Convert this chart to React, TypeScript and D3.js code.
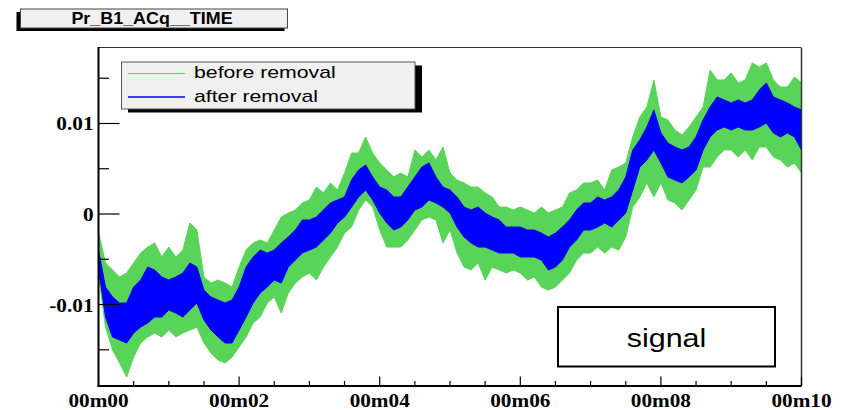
import React from 'react';
import * as d3 from 'd3';

const WIDTH = 846;
const HEIGHT = 410;

const TITLE = 'Pr_B1_ACq__TIME';
const SERIES_NAMES = ['before removal', 'after removal'];
const SERIES_COLORS = ['#58d458', '#0000ff'];
const BOX_LABEL = 'signal';

// Time axis (minutes) and value axis
const X_DOMAIN: [number, number] = [0, 10];
const Y_DOMAIN: [number, number] = [-0.019, 0.01834];
const X_MAJOR_TICKS = [0, 2, 4, 6, 8, 10];
const X_TICK_LABELS = ['00m00', '00m02', '00m04', '00m06', '00m08', '00m10'];
const X_MINOR_TICKS = [0.5, 1, 1.5, 2.5, 3, 3.5, 4.5, 5, 5.5, 6.5, 7, 7.5, 8.5, 9, 9.5];
const Y_MAJOR_TICKS = [-0.01, 0, 0.01];
const Y_TICK_LABELS = ['-0.01', '0', '0.01'];
const Y_MINOR_TICKS = [-0.015, -0.005, 0.005, 0.015];

// Envelope of each trace, one sample every 0.1 min from 00m00 to 00m10
const SAMPLE_STEP_MIN = 0.1;

const beforeHigh = [
  -1.99e-3, -5.41e-3, -6.19e-3, -6.96e-3, -6.52e-3, -5.41e-3, -4.31e-3, -3.65e-3, -3.2e-3, -4.75e-3,
  -3.65e-3, -4.75e-3, -3.98e-3, -0.99e-3, -1.77e-3, -6.96e-3, -7.62e-3, -7.29e-3, -7.62e-3, -8.07e-3,
  -5.86e-3, -3.98e-3, -3.2e-3, -2.87e-3, -3.2e-3, -1.77e-3, -0.33e-3, 0.11e-3, 0.44e-3, 1.22e-3,
  1.55e-3, 2.98e-3, 2.32e-3, 3.43e-3, 2.65e-3, 4.53e-3, 6.74e-3, 6.74e-3, 8.51e-3, 6.74e-3,
  5.64e-3, 4.86e-3, 4.09e-3, 4.53e-3, 4.09e-3, 7.07e-3, 6.3e-3, 7.07e-3, 5.97e-3, 7.4e-3,
  4.53e-3, 3.76e-3, 3.43e-3, 2.98e-3, 2.98e-3, 2.32e-3, 1.88e-3, 0.77e-3, 0.77e-3, 0.44e-3,
  0.77e-3, 0.44e-3, 0.11e-3, 0.77e-3, 0.11e-3, 0.44e-3, 0.77e-3, 2.32e-3, 2.65e-3, 3.43e-3,
  3.43e-3, 3.76e-3, 2.65e-3, 4.86e-3, 5.19e-3, 5.64e-3, 8.51e-3, 10.72e-3, 11.82e-3, 14.81e-3,
  10.72e-3, 10.39e-3, 9.28e-3, 8.73e-3, 9.61e-3, 10.72e-3, 11.82e-3, 15.91e-3, 14.81e-3, 14.81e-3,
  15.58e-3, 14.48e-3, 14.81e-3, 16.69e-3, 16.24e-3, 16.69e-3, 14.81e-3, 14.03e-3, 14.03e-3, 15.14e-3,
  14.48e-3,
];

const beforeLow = [
  -6.74e-3, -12.49e-3, -15.03e-3, -16.46e-3, -18.01e-3, -15.8e-3, -14.25e-3, -13.59e-3, -13.15e-3, -13.59e-3,
  -12.82e-3, -13.59e-3, -13.15e-3, -12.82e-3, -12.49e-3, -14.25e-3, -15.36e-3, -16.13e-3, -16.46e-3, -15.8e-3,
  -14.7e-3, -13.59e-3, -12.04e-3, -11.38e-3, -9.83e-3, -9.17e-3, -10.94e-3, -8.73e-3, -7.62e-3, -6.96e-3,
  -6.52e-3, -7.29e-3, -5.86e-3, -4.75e-3, -3.65e-3, -2.1e-3, -1.44e-3, 0.44e-3, 1.55e-3, 0.77e-3,
  -1.77e-3, -3.65e-3, -3.65e-3, -3.65e-3, -2.87e-3, -1.77e-3, -0.66e-3, -0.33e-3, -0.66e-3, -3.2e-3,
  -1.77e-3, -4.31e-3, -5.86e-3, -6.19e-3, -5.41e-3, -7.29e-3, -5.86e-3, -6.19e-3, -6.52e-3, -6.19e-3,
  -6.52e-3, -7.29e-3, -6.96e-3, -8.07e-3, -8.4e-3, -8.07e-3, -7.29e-3, -6.52e-3, -5.08e-3, -4.31e-3,
  -4.31e-3, -3.65e-3, -4.31e-3, -3.65e-3, -3.98e-3, -2.54e-3, 0.77e-3, 1.88e-3, 3.43e-3, 1.88e-3,
  3.43e-3, 1.55e-3, 1.22e-3, 0.44e-3, 1.55e-3, 2.65e-3, 5.19e-3, 5.19e-3, 6.3e-3, 7.07e-3,
  7.07e-3, 6.3e-3, 7.07e-3, 5.97e-3, 7.4e-3, 7.4e-3, 6.3e-3, 5.97e-3, 5.19e-3, 5.64e-3,
  4.53e-3,
];

const afterHigh = [
  -3.98e-3, -8.07e-3, -9.17e-3, -9.83e-3, -9.83e-3, -8.07e-3, -7.29e-3, -5.86e-3, -6.19e-3, -6.96e-3,
  -7.29e-3, -6.96e-3, -6.52e-3, -5.41e-3, -5.86e-3, -8.4e-3, -9.17e-3, -9.5e-3, -9.83e-3, -9.5e-3,
  -8.07e-3, -5.86e-3, -4.75e-3, -3.98e-3, -4.31e-3, -3.98e-3, -3.2e-3, -2.54e-3, -1.77e-3, -0.66e-3,
  -0.66e-3, -0.33e-3, 0.44e-3, 1.22e-3, 1.55e-3, 1.88e-3, 3.76e-3, 4.86e-3, 5.41e-3, 4.09e-3,
  2.98e-3, 2.65e-3, 1.88e-3, 1.88e-3, 2.98e-3, 4.09e-3, 5.19e-3, 5.64e-3, 4.09e-3, 2.98e-3,
  2.65e-3, 1.88e-3, 0.77e-3, 0.44e-3, 0.77e-3, 0.11e-3, -0.33e-3, -0.66e-3, -1.44e-3, -1.44e-3,
  -1.44e-3, -1.77e-3, -1.77e-3, -2.1e-3, -2.54e-3, -2.1e-3, -1.44e-3, -0.66e-3, 0.44e-3, 1.22e-3,
  1.22e-3, 1.88e-3, 1.55e-3, 1.88e-3, 2.65e-3, 4.09e-3, 7.07e-3, 8.18e-3, 9.61e-3, 11.49e-3,
  8.95e-3, 7.85e-3, 7.4e-3, 7.07e-3, 7.4e-3, 8.51e-3, 10.39e-3, 11.82e-3, 12.93e-3, 12.6e-3,
  12.27e-3, 12.6e-3, 12.27e-3, 12.6e-3, 13.7e-3, 14.48e-3, 12.93e-3, 12.6e-3, 12.27e-3, 11.82e-3,
  11.49e-3,
];

const afterLow = [
  -5.97e-3, -11.38e-3, -13.59e-3, -13.92e-3, -14.25e-3, -13.15e-3, -12.49e-3, -12.04e-3, -11.38e-3, -11.38e-3,
  -10.61e-3, -10.94e-3, -11.38e-3, -10.61e-3, -9.83e-3, -11.71e-3, -12.82e-3, -13.59e-3, -14.25e-3, -14.25e-3,
  -12.82e-3, -11.38e-3, -9.83e-3, -8.73e-3, -8.07e-3, -7.29e-3, -7.62e-3, -5.86e-3, -5.08e-3, -4.31e-3,
  -3.98e-3, -3.65e-3, -2.87e-3, -2.1e-3, -0.99e-3, -0.33e-3, 0.77e-3, 1.88e-3, 2.65e-3, 1.55e-3,
  0.11e-3, -0.99e-3, -1.77e-3, -1.44e-3, -0.66e-3, 0.44e-3, 0.77e-3, 1.55e-3, 1.22e-3, 0.77e-3,
  0.11e-3, -1.44e-3, -2.54e-3, -3.2e-3, -3.65e-3, -3.65e-3, -3.98e-3, -4.31e-3, -4.31e-3, -4.31e-3,
  -4.75e-3, -4.75e-3, -4.75e-3, -5.08e-3, -6.19e-3, -5.86e-3, -5.08e-3, -3.65e-3, -2.87e-3, -1.77e-3,
  -1.77e-3, -1.44e-3, -0.99e-3, -1.44e-3, -0.66e-3, 0.11e-3, 2.65e-3, 5.19e-3, 5.97e-3, 7.07e-3,
  5.64e-3, 4.09e-3, 3.76e-3, 3.43e-3, 4.09e-3, 4.86e-3, 7.07e-3, 8.51e-3, 9.28e-3, 9.61e-3,
  9.28e-3, 9.61e-3, 9.28e-3, 9.28e-3, 9.61e-3, 10.06e-3, 8.95e-3, 8.51e-3, 8.95e-3, 8.51e-3,
  7.07e-3,
];

// Frame geometry
const FRAME = { left: 98.5, right: 801.5, top: 48, bottom: 386 };

// Horizontal text stretch used for every label
const SX = 1.18;

type TProps = {
  x: number;
  y: number;
  size: number;
  anchor?: 'start' | 'middle' | 'end';
  bold?: boolean;
  serif?: boolean;
  sx?: number;
  children: React.ReactNode;
};

function SText({ x, y, size, anchor = 'start', bold = false, serif = false, sx = SX, children }: TProps) {
  return (
    <text
      transform={`translate(${x},${y}) scale(${sx},1)`}
      fontSize={size}
      fontWeight={bold ? 'bold' : 'normal'}
      fontFamily={serif ? '"Liberation Serif", "Times New Roman", serif' : '"Liberation Sans", Arial, sans-serif'}
      textAnchor={anchor}
      fill="#000"
    >
      {children}
    </text>
  );
}

export default function App() {
  const x = d3.scaleLinear().domain(X_DOMAIN).range([FRAME.left, FRAME.right]);
  const y = d3.scaleLinear().domain(Y_DOMAIN).range([FRAME.bottom, FRAME.top]);

  const band = (hi: number[], lo: number[]) =>
    d3
      .area<number>()
      .x((_, i) => x(i * SAMPLE_STEP_MIN))
      .y0((_, i) => y(lo[i]))
      .y1((d) => y(d))(hi) ?? '';

  const beforePath = band(beforeHigh, beforeLow);
  const afterPath = band(afterHigh, afterLow);

  return (
    <svg
      width={WIDTH}
      height={HEIGHT}
      style={{ position: 'absolute', left: 0, top: 0, background: '#fff' }}
    >
      <defs>
        <clipPath id="frame-clip">
          <rect x={FRAME.left} y={FRAME.top} width={FRAME.right - FRAME.left} height={FRAME.bottom - FRAME.top} />
        </clipPath>
      </defs>

      {/* traces */}
      <g clipPath="url(#frame-clip)">
        <path d={beforePath} fill={SERIES_COLORS[0]} stroke={SERIES_COLORS[0]} strokeWidth={1} />
        <path d={afterPath} fill={SERIES_COLORS[1]} stroke={SERIES_COLORS[1]} strokeWidth={1} />
      </g>

      {/* frame */}
      <line x1={FRAME.left} x2={FRAME.right} y1={FRAME.top - 0.5} y2={FRAME.top - 0.5} stroke="#333" strokeWidth={1} />
      <line x1={FRAME.right} x2={FRAME.right} y1={FRAME.top} y2={FRAME.bottom} stroke="#333" strokeWidth={1.5} />
      <line x1={FRAME.left} x2={FRAME.left} y1={FRAME.top - 1} y2={FRAME.bottom + 1} stroke="#000" strokeWidth={2} />
      <line x1={FRAME.left - 1} x2={FRAME.right} y1={FRAME.bottom} y2={FRAME.bottom} stroke="#000" strokeWidth={2} />

      {/* y ticks */}
      {Y_MAJOR_TICKS.map((v, i) => (
        <g key={`ym${i}`}>
          <line x1={FRAME.left} x2={FRAME.left + 21} y1={y(v)} y2={y(v)} stroke="#000" strokeWidth={1.2} />
          <SText x={93.5} y={y(v) + 7} size={18} bold serif anchor="end">
            {Y_TICK_LABELS[i]}
          </SText>
        </g>
      ))}
      {Y_MINOR_TICKS.map((v, i) => (
        <line key={`yn${i}`} x1={FRAME.left} x2={FRAME.left + 10.5} y1={y(v)} y2={y(v)} stroke="#000" strokeWidth={1.2} />
      ))}

      {/* x ticks */}
      {X_MAJOR_TICKS.map((v, i) => (
        <g key={`xm${i}`}>
          <line x1={x(v)} x2={x(v)} y1={FRAME.bottom} y2={FRAME.bottom - 9.5} stroke="#000" strokeWidth={1.2} />
          <SText x={x(v)} y={407} size={18} bold serif anchor="middle">
            {X_TICK_LABELS[i]}
          </SText>
        </g>
      ))}
      {X_MINOR_TICKS.map((v, i) => (
        <line key={`xn${i}`} x1={x(v)} x2={x(v)} y1={FRAME.bottom} y2={FRAME.bottom - 5} stroke="#000" strokeWidth={1.2} />
      ))}

      {/* title box */}
      <rect x={16.5} y={12} width={268} height={19} fill="#000" />
      <rect x={20.5} y={9} width={267} height={19} fill="#f0f0f0" stroke="#444" strokeWidth={1} />
      <SText x={152} y={24} size={16} bold sx={1.12} anchor="middle">
        {TITLE}
      </SText>

      {/* legend */}
      <rect x={128} y={65.5} width={294} height={47} fill="#000" />
      <rect x={121.5} y={62} width={293.5} height={47} fill="#f0f0f0" stroke="#555" strokeWidth={1} />
      <line x1={128} x2={185} y1={73.5} y2={73.5} stroke={SERIES_COLORS[0]} strokeWidth={1} />
      <line x1={128} x2={185} y1={97} y2={97} stroke={SERIES_COLORS[1]} strokeWidth={1.5} />
      <SText x={194} y={78} size={17} sx={1.25}>
        {SERIES_NAMES[0]}
      </SText>
      <SText x={194} y={102} size={17} sx={1.25}>
        {SERIES_NAMES[1]}
      </SText>

      {/* annotation box */}
      <rect x={558} y={307} width={217} height={59.5} fill="#fff" stroke="#000" strokeWidth={2} />
      <SText x={666.5} y={347} size={25} sx={1.22} anchor="middle">
        {BOX_LABEL}
      </SText>
    </svg>
  );
}
